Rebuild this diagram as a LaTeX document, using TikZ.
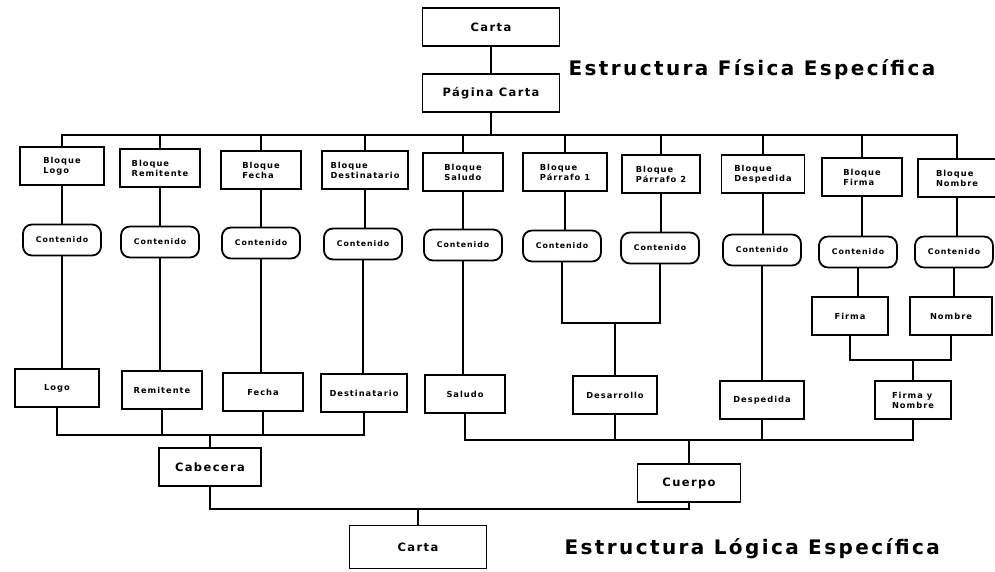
\documentclass[tikz,border=0pt]{standalone}
\usepackage{fontspec}
\setmainfont{DejaVu Sans}[LetterSpace=12]
\begin{document}
\begin{tikzpicture}[x=1pt,y=-1pt,line width=1.3pt,
    caja/.style={draw,line width=1.8pt,minimum width=80pt,minimum height=38pt,inner sep=1.5pt,
      align=left,font=\bfseries\fontsize{8.3}{10}\selectfont},
    cont/.style={draw,line width=1.8pt,rounded corners=9pt,minimum width=78pt,minimum height=31pt,
      inner sep=1.5pt,font=\bfseries\fontsize{7.8}{9}\selectfont},
    grande/.style={draw,line width=1.8pt,minimum height=38pt,inner sep=2pt,
      font=\bfseries\fontsize{11.5}{13}\selectfont},
    titulo/.style={anchor=west,inner sep=0pt,font=\bfseries\fontsize{20}{22}\selectfont}]
  \useasboundingbox (0,0) rectangle (995,571);
  \node[grande,minimum width=137pt] (carta1) at (491,27) {Carta};
  \node[grande,minimum width=137pt] (pagina) at (491,93) {Página Carta};
  \node[titulo] (tfis) at (568,70) {Estructura Física Específica};
  \draw (carta1) -- (pagina);
  \draw (pagina.south) -- ++(0,22) coordinate (bus);
  \node[caja,minimum width=84pt] (b1) at (62,166) {Bloque\\Logo};
  \node[caja] (b2) at (160,168) {Bloque\\Remitente};
  \node[caja] (b3) at (261,170) {Bloque\\Fecha};
  \node[caja,minimum width=86pt] (b4) at (365,170) {Bloque\\Destinatario};
  \node[caja] (b5) at (463,172) {Bloque\\Saludo};
  \node[caja,minimum width=84pt] (b6) at (565,172) {Bloque\\Párrafo 1};
  \node[caja,minimum width=78pt] (b7) at (661,174) {Bloque\\Párrafo 2};
  \node[caja,minimum width=83pt] (b8) at (763,174) {Bloque\\Despedida};
  \node[caja] (b9) at (862,177) {Bloque\\Firma};
  \node[caja,minimum width=78pt] (b10) at (957,178) {Bloque\\Nombre};
  \draw (b1.north) |- (bus) -| (b10.north);
  \foreach \i in {2,...,9}
    \draw (b\i.north) -- (b\i.north |- bus);
  \node[cont] (c1) at (62,240) {Contenido};
  \node[cont] (c2) at (160,242) {Contenido};
  \node[cont] (c3) at (261,243) {Contenido};
  \node[cont] (c4) at (363,244) {Contenido};
  \node[cont] (c5) at (463,245) {Contenido};
  \node[cont] (c6) at (562,246) {Contenido};
  \node[cont] (c7) at (660,248) {Contenido};
  \node[cont] (c8) at (762,250) {Contenido};
  \node[cont] (c9) at (858,252) {Contenido};
  \node[cont] (c10) at (954,252) {Contenido};
  \foreach \i in {1,...,10}
    \draw (b\i.south) -- (b\i.south |- c\i.north);
  \node[caja,minimum width=84pt] (logo) at (57,388) {Logo};
  \node[caja] (remi) at (162,390) {Remitente};
  \node[caja] (fecha) at (263,392) {Fecha};
  \node[caja,minimum width=86pt] (dest) at (364,393) {Destinatario};
  \node[caja] (salu) at (465,394) {Saludo};
  \node[caja,minimum width=84pt] (desa) at (615,395) {Desarrollo};
  \node[caja,minimum width=84pt] (desp) at (762,400) {Despedida};
  \node[caja,minimum width=76pt] (firma) at (850,316) {Firma};
  \node[caja,minimum width=82pt] (nomb) at (951,316) {Nombre};
  \node[caja,minimum width=76pt] (fyn) at (913,400) {Firma y\\Nombre};
  \draw (c1.south) -- (c1.south |- logo.north);
  \draw (c2.south) -- (c2.south |- remi.north);
  \draw (c3.south) -- (c3.south |- fecha.north);
  \draw (c4.south) -- (c4.south |- dest.north);
  \draw (c5.south) -- (c5.south |- salu.north);
  \draw (c8.south) -- (c8.south |- desp.north);
  \draw (c9.south) -- (c9.south |- firma.north);
  \draw (c10.south) -- (c10.south |- nomb.north);
  \coordinate (jp) at (615,323);
  \draw (c6.south) |- (jp) -| (c7.south);
  \draw (jp) -- (desa.north);
  \coordinate (jf) at (913,360);
  \draw (firma.south) |- (jf) -| (nomb.south);
  \draw (jf) -- (fyn.north);
  \node[grande,minimum width=102pt] (cab) at (210,467) {Cabecera};
  \node[grande,minimum width=103pt] (cue) at (689,483) {Cuerpo};
  \coordinate (jc) at (210,435);
  \draw (logo.south) |- (jc) -| (dest.south);
  \draw (remi.south) -- (remi.south |- jc);
  \draw (fecha.south) -- (fecha.south |- jc);
  \draw (jc) -- (cab.north);
  \coordinate (jq) at (689,440);
  \draw (salu.south) |- (jq) -| (fyn.south);
  \draw (desa.south) -- (desa.south |- jq);
  \draw (desp.south) -- (desp.south |- jq);
  \draw (jq) -- (cue.north);
  \node[grande,minimum width=137pt,minimum height=43pt] (carta2) at (418,547) {Carta};
  \coordinate (jl) at (418,509);
  \draw (cab.south) |- (jl) -| (cue.south);
  \draw (jl) -- (carta2.north);
  \node[titulo] (tlog) at (564,549) {Estructura Lógica Específica};
\end{tikzpicture}
\end{document}
